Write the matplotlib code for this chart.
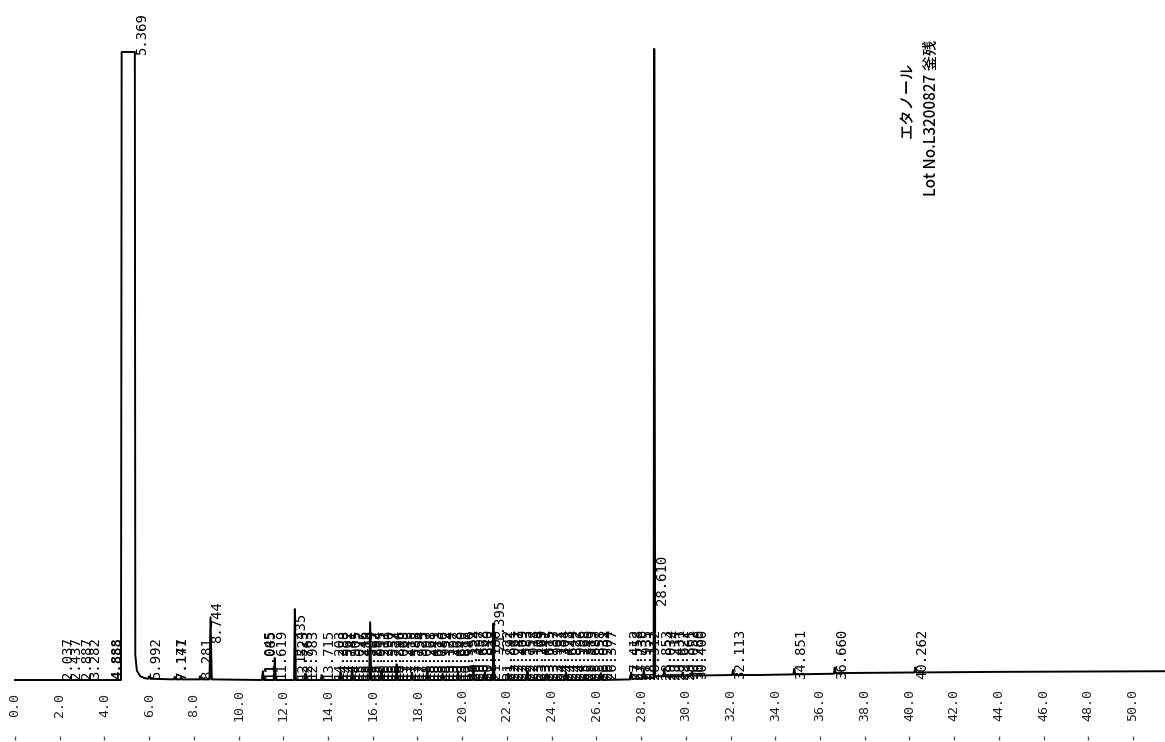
import matplotlib.pyplot as plt

# chromatogram trace (time in min, signal in arbitrary units)
trace_t = [
    0.0, 4.74, 4.77, 5.36, 5.38, 5.45, 5.60, 5.80,
    5.95, 5.992, 6.05, 7.10, 7.147, 7.20, 7.38, 7.421, 7.47,
    8.24, 8.281, 8.32, 8.70, 8.744, 8.80,
    11.04, 11.085, 11.13, 11.58, 11.619, 11.66,
    12.48, 12.515, 12.56, 12.95, 12.983, 13.02, 13.68, 13.715, 13.75,
    14.52, 14.562, 14.60, 15.04, 15.077, 15.12, 15.84, 15.884, 15.93,
    16.35, 16.390, 16.43, 17.03, 17.068, 17.11, 17.71, 17.754, 17.80,
    18.40, 18.441, 18.48, 19.08, 19.124, 19.17, 19.77, 19.812, 19.85,
    20.46, 20.497, 20.54, 20.97, 21.012, 21.05, 21.36, 21.395, 21.44,
    22.02, 22.061, 22.10, 22.88, 22.918, 22.96, 23.74, 23.787, 23.83,
    24.60, 24.644, 24.69, 25.47, 25.513, 25.55, 26.16, 26.204, 26.25,
    27.52, 27.558, 27.60, 28.08, 28.121, 28.16, 28.56, 28.588, 28.63,
    29.00, 29.034, 29.07, 29.82, 29.861, 29.90, 30.24, 30.280, 30.32,
    32.07, 32.113, 32.16, 33.30, 34.81, 34.851, 34.89,
    36.62, 36.660, 36.70, 40.22, 40.262, 40.30, 44.0, 51.5,
]
trace_s = [
    0, 0, 1000, 1000, 40, 15, 6, 3,
    2, 6, 2, 1, 5, 1, 1, 4, 1,
    1, 6, 1, 1, 100, 1,
    0, 14, 0, 0, 35, 0,
    0, 113, 0, 0, 10, 0, 0, 8, 0,
    0, 12, 0, 0, 20, 0, 0, 92, 0,
    0, 15, 0, 0, 25, 0, 0, 12, 0,
    0, 18, 0, 0, 10, 0, 0, 14, 0,
    0, 22, 0, 0, 12, 0, 0, 90, 0,
    0, 10, 0, 0, 14, 0, 0, 9, 0,
    0, 12, 0, 0, 8, 0, 0, 11, 0,
    1, 12, 2, 2, 16, 3, 3, 1005, 6,
    6, 18, 6, 6, 12, 7, 7, 14, 7,
    8, 16, 8, 8, 9, 18, 9,
    10, 20, 11, 12, 20, 12, 13, 14,
]

# retention-time labels printed above the peaks
peak_labels = [
    2.037, 2.437, 2.887, 3.282, 4.888, 5.369, 5.992, 7.147, 7.171, 8.281, 8.744,
    11.045, 11.085, 11.619, 12.435, 12.523, 12.763, 12.983, 13.715,
    14.203, 14.388, 14.562, 14.741, 14.905, 15.077, 15.246, 15.418, 15.594,
    15.762, 15.884, 16.035, 16.211, 16.390, 16.557, 16.724, 16.896, 17.068,
    17.243, 17.415, 17.588, 17.754, 17.923, 18.097, 18.268, 18.441, 18.613,
    18.786, 18.952, 19.124, 19.297, 19.468, 19.640, 19.812, 19.980, 20.152,
    20.324, 20.497, 20.668, 20.840, 21.012, 21.180, 21.395,
    21.722, 21.891, 22.061, 22.247, 22.409, 22.583, 22.752, 22.918, 23.104,
    23.269, 23.441, 23.615, 23.787, 23.962, 24.131, 24.304, 24.478, 24.644,
    24.822, 24.996, 25.168, 25.340, 25.513, 25.687, 25.858, 26.031, 26.204,
    26.377,
    27.412, 27.558, 27.736, 27.935, 28.121, 28.312, 28.610, 28.853, 29.034,
    29.214, 29.431, 29.622, 29.861, 30.052, 30.280, 30.400,
    32.113, 34.851, 36.660, 40.262,
]

x_ticks = [0.0, 2.0, 4.0, 6.0, 8.0, 10.0, 12.0, 14.0, 16.0, 18.0, 20.0, 22.0, 24.0,
           26.0, 28.0, 30.0, 32.0, 34.0, 36.0, 38.0, 40.0, 42.0, 44.0, 46.0, 48.0, 50.0]

title_lines = ["エタノール", "Lot No.L3200827 釜残"]

# labels the printer lifted off the baseline (signal units)
label_lift = {5.369: 995, 8.744: 59, 12.435: 29, 21.395: 48, 28.610: 119}

fig = plt.figure(figsize=(11.65, 7.42), dpi=100)
ax = fig.add_axes([0, 0, 1, 1])
ax.set_xlim(-0.671, 51.43)
ax.set_ylim(-98.7, 1082.8)
ax.axis("off")

ax.plot(trace_t, trace_s, color="black", linewidth=1.4)

mono = "DejaVu Sans Mono"
for t in peak_labels:
    y = label_lift.get(t, 2)
    if t == 4.888:
        # sits against the rising edge of the solvent peak
        ax.text(t, y, f"{t:.3f}", rotation=90, ha="right", va="bottom",
                family=mono, fontsize=10, fontweight="bold")
    else:
        ax.text(t, y, f"{t:.3f}", rotation=90, ha="left", va="bottom",
                family=mono, fontsize=10, color="black")

for t in x_ticks:
    ax.text(t, -40, f"{t:.1f}", rotation=90, ha="center", va="center",
            family=mono, fontsize=9.5, color="#222222")
ax.vlines(x_ticks, -95.5, -88.5, color="#555555", linewidth=1)

cjk = ["Noto Sans CJK JP", "DejaVu Sans"]
ax.text(39.89, 923, title_lines[0], rotation=90, ha="center", va="center",
        family=cjk, fontsize=11, fontweight="medium")
ax.text(40.97, 895, title_lines[1], rotation=90, ha="center", va="center",
        family=cjk, fontsize=11, fontweight="medium")

fig.savefig("out.png", dpi=100)
